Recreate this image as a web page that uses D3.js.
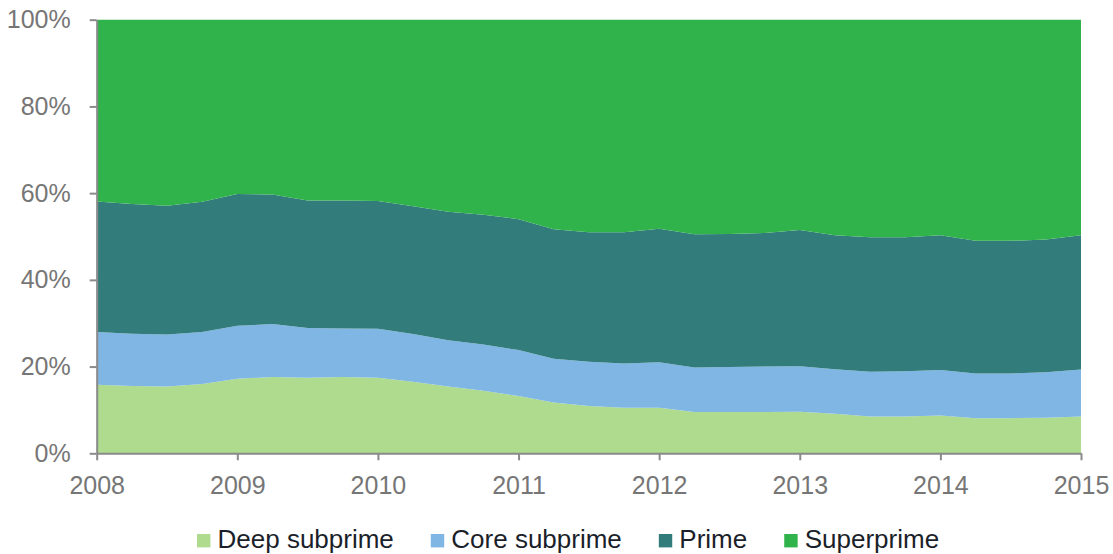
<!DOCTYPE html>
<html>
<head>
<meta charset="utf-8">
<script src="https://cdn.jsdelivr.net/npm/d3@7/dist/d3.min.js"></script>
<style>
  html, body { margin: 0; padding: 0; background: #fff; }
  svg { display: block; font-family: "Liberation Sans", Arial, sans-serif; }
</style>
</head>
<body>
<svg id="chart" width="1113" height="554"></svg>
<script>
// Quarterly observations, 2008 Q1 through 2015 Q1
const quarters = [
  "2008Q1","2008Q2","2008Q3","2008Q4",
  "2009Q1","2009Q2","2009Q3","2009Q4",
  "2010Q1","2010Q2","2010Q3","2010Q4",
  "2011Q1","2011Q2","2011Q3","2011Q4",
  "2012Q1","2012Q2","2012Q3","2012Q4",
  "2013Q1","2013Q2","2013Q3","2013Q4",
  "2014Q1","2014Q2","2014Q3","2014Q4",
  "2015Q1"
];
const seriesNames = ["Deep subprime", "Core subprime", "Prime", "Superprime"];
const deepSubprime = [15.8,15.5,15.4,16.0,17.2,17.6,17.4,17.6,17.4,16.5,15.4,14.4,13.2,11.7,10.9,10.5,10.5,9.5,9.5,9.5,9.6,9.1,8.5,8.5,8.7,8.1,8.1,8.2,8.5];
const coreSubprime = [12.2,12.1,12.0,12.0,12.2,12.2,11.5,11.2,11.3,11.0,10.7,10.7,10.6,10.1,10.2,10.2,10.5,10.3,10.4,10.5,10.5,10.3,10.3,10.4,10.5,10.3,10.3,10.5,10.8];
const prime        = [30.1,29.9,29.7,30.0,30.4,29.9,29.4,29.5,29.5,29.5,29.6,29.9,30.2,29.9,29.9,30.3,30.8,30.7,30.7,30.8,31.4,30.9,31.0,30.9,31.1,30.6,30.6,30.6,31.0];
const superprime   = [41.9,42.5,42.9,42.0,40.2,40.3,41.7,41.7,41.8,43.0,44.3,45.0,46.0,48.3,49.0,49.0,48.2,49.5,49.4,49.2,48.5,49.7,50.2,50.2,49.7,51.0,51.0,50.7,49.7];
const yearTicks = [2008, 2009, 2010, 2011, 2012, 2013, 2014, 2015];
const pctTicks = [0, 20, 40, 60, 80, 100];
const colors = ["#aedb8e", "#7fb6e4", "#327d7b", "#2fb34a"];

const svg = d3.select("#chart");
const margin = { left: 96.7, top: 19.7, right: 1113 - 1081, bottom: 554 - 453.3 };
const W = 1113 - margin.left - margin.right;
const H = 554 - margin.top - margin.bottom;
const g = svg.append("g").attr("transform", `translate(${margin.left},${margin.top})`);

const table = quarters.map((q, i) => ({
  t: +q.slice(0, 4) + (+q.slice(5) - 1) / 4,
  "Deep subprime": deepSubprime[i],
  "Core subprime": coreSubprime[i],
  "Prime": prime[i],
  "Superprime": superprime[i]
}));

const stack = d3.stack().keys(seriesNames).offset(d3.stackOffsetExpand);
const layers = stack(table);

const x = d3.scaleLinear().domain([2008, 2015]).range([0, W]);
const y = d3.scaleLinear().domain([0, 1]).range([H, 0]);

const area = d3.area()
  .x(d => x(d.data.t))
  .y0(d => y(d[0]))
  .y1(d => y(d[1]));

g.selectAll("path.layer").data(layers).enter().append("path")
  .attr("class", "layer")
  .attr("d", area)
  .attr("fill", (d, i) => colors[i]);

const axisColor = "#8a8a8a";
const textColor = "#767676";

const yAxis = g.append("g")
  .call(d3.axisLeft(y).tickValues(pctTicks.map(v => v / 100))
    .tickFormat(d => Math.round(d * 100) + "%")
    .tickSize(7).tickPadding(19).tickSizeOuter(0));
const xAxis = g.append("g").attr("transform", `translate(0,${H})`)
  .call(d3.axisBottom(x).tickValues(yearTicks).tickFormat(d3.format("d"))
    .tickSize(7).tickPadding(15.5).tickSizeOuter(0));

[yAxis, xAxis].forEach(a => {
  a.selectAll(".domain").attr("stroke", axisColor).attr("stroke-width", 2);
  a.selectAll(".tick line").attr("stroke", axisColor).attr("stroke-width", 2);
  a.selectAll(".tick text").attr("fill", textColor).style("font-size", "25px")
    .style("font-family", "'Liberation Sans', Arial, sans-serif");
});

// Legend
const legend = svg.append("g");
let lx = 197;
seriesNames.forEach((name, i) => {
  const item = legend.append("g");
  item.append("rect").attr("x", lx).attr("y", 534).attr("width", 13.4).attr("height", 13.4)
    .attr("fill", colors[i]);
  const t = item.append("text").attr("x", lx + 20.5).attr("y", 548)
    .attr("fill", "#1b1f2a").style("font-size", "26px").text(name);
  lx += 20.5 + t.node().getComputedTextLength() + 37;
});
</script>
</body>
</html>
